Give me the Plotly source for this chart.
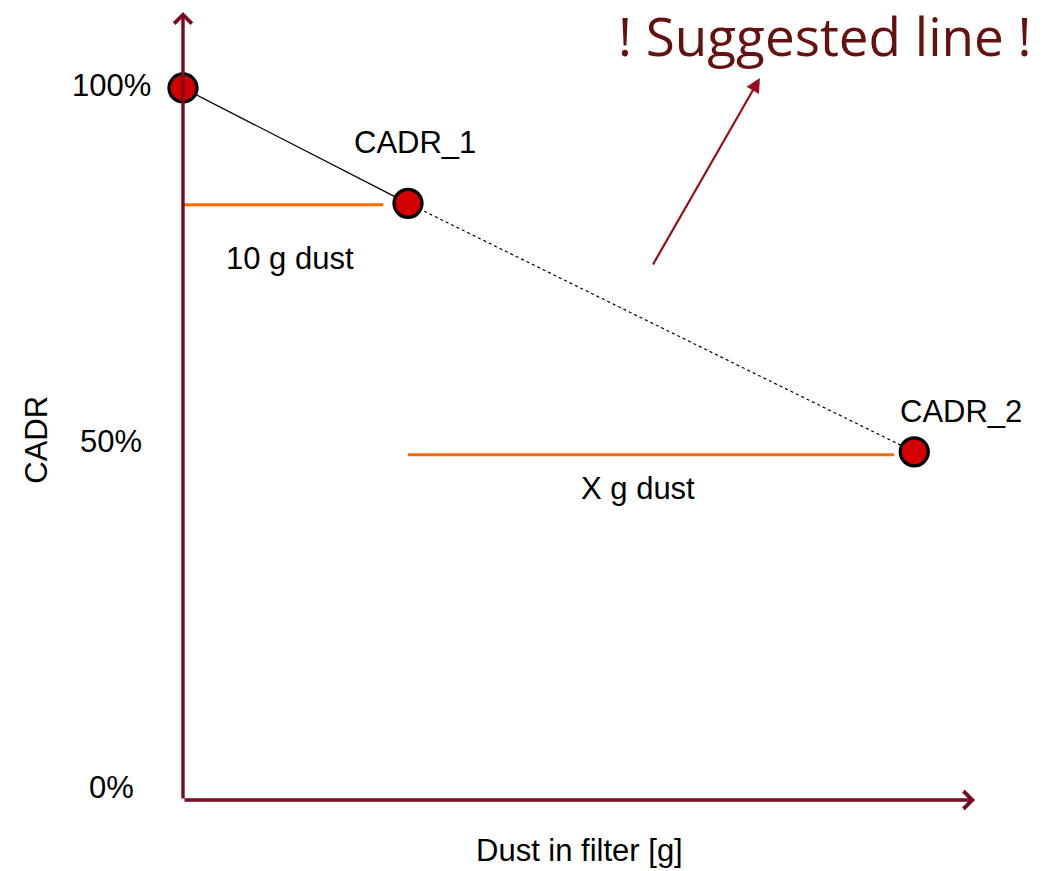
import plotly.graph_objects as go

# ---- data ----
point_x = [0, 10, 32.5]          # dust in filter (g)
point_y = [100, 83.8, 48.9]      # CADR (%)
point_labels = ["", "CADR_1", "CADR_2"]

tick_values = [100, 50, 0]
tick_labels = ["100%", "50%", "0%"]

dust_names = ["10 g dust", "X g dust"]
dust_x0 = [0, 10]
dust_x1 = [8.9, 31.6]
dust_y = [83.6, 48.5]

x_range = [0, 35.2]
y_range = [0, 110.67]

AXIS_COLOR = "#7b0a20"
FONT = "Liberation Sans, Arial, sans-serif"
FS = 31

fig = go.Figure()

# solid segment between first two points, dotted to the last
fig.add_trace(go.Scatter(x=point_x[:2], y=point_y[:2], mode="lines",
                         line=dict(color="black", width=1.3), hoverinfo="skip"))
fig.add_trace(go.Scatter(x=point_x[1:], y=point_y[1:], mode="lines",
                         line=dict(color="black", width=1.2, dash="dot"), hoverinfo="skip"))

# orange dust brackets
for x0, x1, y in zip(dust_x0, dust_x1, dust_y):
    fig.add_trace(go.Scatter(x=[x0, x1], y=[y, y], mode="lines",
                             line=dict(color="#ff6a00", width=3), hoverinfo="skip"))

# points
fig.add_trace(go.Scatter(x=point_x, y=point_y, mode="markers",
                         marker=dict(size=28, color="#d40000",
                                     line=dict(color="black", width=3.3)),
                         cliponaxis=False, hoverinfo="skip"))

ann = []
# axis arrows
ann.append(dict(x=0, y=y_range[1], ax=0, ay=0, xref="x", yref="y", axref="x", ayref="y",
                text="", showarrow=True, arrowhead=4, arrowsize=1, arrowwidth=3.4,
                arrowcolor=AXIS_COLOR))
ann.append(dict(x=x_range[1], y=0, ax=0, ay=0, xref="x", yref="y", axref="x", ayref="y",
                text="", showarrow=True, arrowhead=4, arrowsize=1, arrowwidth=3.4,
                arrowcolor=AXIS_COLOR))

# point labels
label_shift = {1: (7, 61), 2: (47, 40)}
for i, lab in enumerate(point_labels):
    if lab:
        dx, dy = label_shift[i]
        ann.append(dict(x=point_x[i], y=point_y[i], xref="x", yref="y", text=lab,
                        showarrow=False, xshift=dx, yshift=dy,
                        font=dict(family=FONT, size=FS, color="black")))

# dust labels
dust_label_pos = [(4.76, 76.1), (20.2, 43.7)]
for name, (lx, ly) in zip(dust_names, dust_label_pos):
    ann.append(dict(x=lx, y=ly, xref="x", yref="y", text=name, showarrow=False,
                    font=dict(family=FONT, size=FS, color="black")))

# tick labels
for v, t in zip(tick_values, tick_labels):
    ann.append(dict(x=0, y=v, xref="x", yref="y", text=t, showarrow=False,
                    xanchor="center", xshift=-72, yshift=(13 if v == 0 else 2),
                    font=dict(family=FONT, size=FS, color="black")))

# axis titles
ann.append(dict(x=(37 - 183) / 792, y=50.6, xref="paper", yref="y", text="CADR", textangle=-90,
                xanchor="center", yanchor="middle",
                showarrow=False, font=dict(family=FONT, size=FS, color="black")))
ann.append(dict(x=17.64 / x_range[1], y=-50 / 788, xref="paper", yref="paper",
                xanchor="center", yanchor="middle",
                text="Dust in filter [g]", showarrow=False,
                font=dict(family=FONT, size=FS, color="black")))

# suggested line arrow and text
ann.append(dict(x=25.64, y=101.4, ax=20.85, ay=75.0, xref="x", yref="y", axref="x", ayref="y",
                text="", showarrow=True, arrowhead=2, arrowsize=1.3, arrowwidth=2.2,
                arrowcolor="#9b0d1c"))
ann.append(dict(x=28.55, y=107.35, xref="x", yref="y", text="! Suggested line !",
                showarrow=False, font=dict(family="Open Sans", size=53, color="#66100f")))

fig.update_layout(
    width=1058, height=871,
    margin=dict(l=183, r=83, t=12, b=71),
    paper_bgcolor="white", plot_bgcolor="white",
    showlegend=False,
    xaxis=dict(range=x_range, visible=False, fixedrange=True),
    yaxis=dict(range=y_range, visible=False, fixedrange=True),
    annotations=ann,
)

fig.write_html("out.html", config={"displayModeBar": False},
               post_script="document.body.style.margin='0';")
